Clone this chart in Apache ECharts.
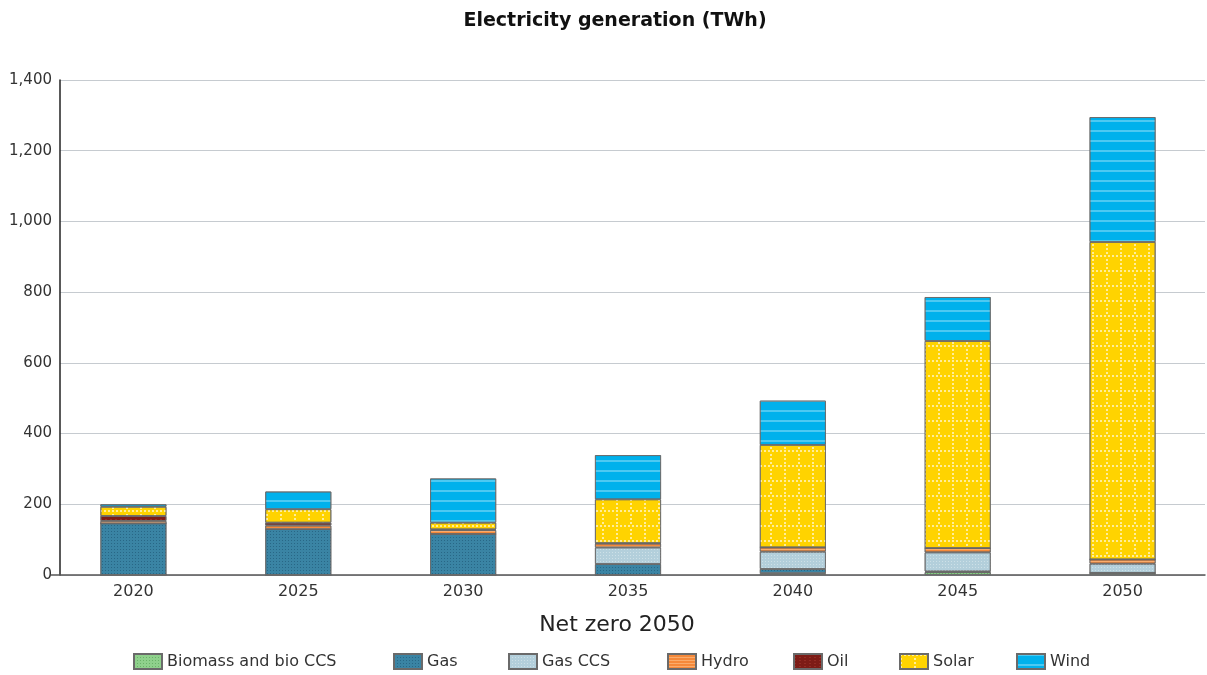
<!DOCTYPE html>
<html>
<head>
<meta charset="utf-8">
<script src="https://cdn.jsdelivr.net/npm/echarts@6/dist/echarts.min.js"></script>
<style>
html,body{margin:0;padding:0;background:#fff;}
#chart{width:1207px;height:675px;}
</style>
</head>
<body>
<div id="chart"></div>
<script>
const years = ['2020','2025','2030','2035','2040','2045','2050'];
const biomass = [0, 0, 0, 0, 5, 8, 6];
const gas     = [146, 130, 116, 31, 12, 2, 0];
const gasCcs  = [0, 0, 0, 47, 49, 54, 26];
const hydro   = [7, 10, 11, 11, 12, 12, 12];
const oil     = [14, 8, 2, 1, 0, 0, 0];
const solar   = [26, 38, 19, 124, 290, 586, 898];
const wind    = [7, 50, 125, 125, 125, 124, 353];
const yTicks  = [0, 200, 400, 600, 800, 1000, 1200, 1400];

const FONT = '"DejaVu Sans", "Open Sans", sans-serif';

const seriesDefs = [
  {name:'Biomass and bio CCS', data:biomass, color:'#8fd18c',
   decal:{symbol:'rect', symbolSize:1, color:'rgba(60,140,60,0.45)', dashArrayX:[1,2], dashArrayY:[1,2]}},
  {name:'Gas', data:gas, color:'#3a84a4',
   decal:{symbol:'rect', symbolSize:1, color:'rgba(25,80,110,0.55)', dashArrayX:[1,1.5], dashArrayY:[1,1.5]}},
  {name:'Gas CCS', data:gasCcs, color:'#b3cfdb',
   decal:{symbol:'rect', symbolSize:1, color:'rgba(255,255,255,0.35)', dashArrayX:[1,1.5], dashArrayY:[1,1.5]}},
  {name:'Hydro', data:hydro, color:'#f5893a',
   decal:{symbol:'rect', symbolSize:1, color:'rgba(255,200,150,0.55)', dashArrayX:[1,0], dashArrayY:[1,2]}},
  {name:'Oil', data:oil, color:'#7d1c16',
   decal:{symbol:'rect', symbolSize:1, color:'rgba(170,60,50,0.5)', dashArrayX:[2,3], dashArrayY:[1,2]}},
  {name:'Solar', data:solar, color:'#ffd300',
   decal:{symbol:'rect', symbolSize:1, color:'rgba(255,255,255,0.6)',
          dashArrayX:[[2,2],[1.5,11.5],[1.5,11.5],[1.5,11.5]],
          dashArrayY:[1.5,2,1.5,2,1.5,2,1.5,1]}},
  {name:'Wind', data:wind, color:'#00b1ec',
   decal:{symbol:'rect', symbolSize:1, color:'rgba(255,255,255,0.3)', dashArrayX:[1,0], dashArrayY:[1.5,7.5]}}
];

const legendLefts = [133, 393, 508, 667, 793, 899, 1016];

const chart = echarts.init(document.getElementById('chart'), null, {renderer:'canvas'});

const option = {
  animation: false,
  backgroundColor: '#ffffff',
  title: [
    {text:'Electricity generation (TWh)', left:610, textAlign:'center', top:7,
     textStyle:{fontFamily:FONT, fontWeight:'bold', fontSize:19, color:'#111'}},
    {text:'Net zero 2050', left:612, textAlign:'center', top:609,
     textStyle:{fontFamily:FONT, fontWeight:'normal', fontSize:22, color:'#222'}}
  ],
  legend: seriesDefs.map((s, i) => ({
    data:[s.name], left:legendLefts[i], top:653, itemWidth:28, itemHeight:15,
    icon:'rect', padding:0, selectedMode:false,
    textStyle:{fontFamily:FONT, fontSize:16, color:'#333'}
  })),
  grid: [
    {left:60, right:2, top:80, bottom:100},
    {left:51, right:2, top:80, bottom:100}
  ],
  xAxis: [
    {type:'category', gridIndex:0, data:years, show:false},
    {type:'category', gridIndex:1, data:years,
     axisLine:{lineStyle:{color:'#555', width:1.5}},
     axisTick:{alignWithLabel:true, length:5, lineStyle:{color:'#555', width:1.2}},
     axisLabel:{fontFamily:FONT, fontSize:16, color:'#333', margin:9},
     splitLine:{show:false}}
  ],
  yAxis: [
    {type:'value', gridIndex:0, min:yTicks[0], max:yTicks[yTicks.length-1], interval:yTicks[1]-yTicks[0],
     axisLine:{show:true, lineStyle:{color:'#222', width:1.5}},
     axisTick:{show:false},
     axisLabel:{fontFamily:FONT, fontSize:15, color:'#333', margin:8,
       formatter:v => v.toLocaleString('en-US')},
     splitLine:{show:true, lineStyle:{color:'#c6cbd0', width:1.2}}},
    {type:'value', gridIndex:1, min:yTicks[0], max:yTicks[yTicks.length-1], show:false,
     splitLine:{show:false}}
  ],
  series: seriesDefs.map(s => ({
    name:s.name, type:'bar', stack:'total', xAxisIndex:1, yAxisIndex:1,
    barWidth:66, data:s.data,
    itemStyle:{color:s.color, borderColor:'#6a6a6a', borderWidth:0.8, decal:s.decal},
    emphasis:{disabled:true}
  }))
};
chart.setOption(option);
</script>
</body>
</html>
